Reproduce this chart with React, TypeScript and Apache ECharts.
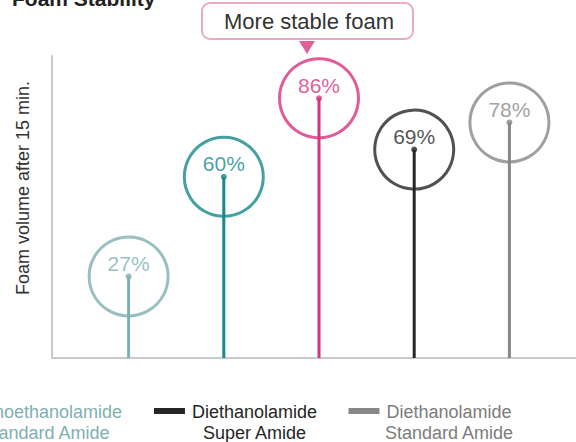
import React, { useEffect, useRef } from "react";
import * as echarts from "echarts";

// ---- data ----
const categories = [
  "Monoethanolamide Standard Amide",
  "Monoethanolamide Super Amide",
  "Super Amide",
  "Diethanolamide Super Amide",
  "Diethanolamide Standard Amide",
];
const values = [27, 60, 86, 69, 78];
const colors = ["#7eb0b3", "#16898a", "#d7327f", "#262626", "#878787"];

const legendNames = [
  "Monoethanolamide\nStandard Amide",
  "Diethanolamide\nSuper Amide",
  "Diethanolamide\nStandard Amide",
];
const legendColors = ["#7eb0b3", "#262626", "#878787"];
const legendTextColors = ["#7eb0b3", "#262626", "#7c7c7c"];

const titleText = "Foam Stability";
const calloutText = "More stable foam";
const yAxisTitle = "Foam volume after 15 min.";

const FONT = "'Liberation Sans', Arial, Helvetica, sans-serif";

export default function App() {
  const ref = useRef<HTMLDivElement>(null);

  useEffect(() => {
    if (!ref.current) return;
    const chart = echarts.init(ref.current, undefined, { renderer: "svg" });

    const legendCenters = [45.5, 254.5, 449];
    const legendGraphics: any[] = [];
    legendNames.forEach((name, i) => {
      const cx = legendCenters[i];
      const firstLine = name.split("\n")[0];
      legendGraphics.push({
        type: "text",
        x: cx,
        y: 401,
        style: {
          text: name,
          font: `18px ${FONT}`,
          fill: legendTextColors[i],
          align: "center",
          verticalAlign: "top",
          lineHeight: 21,
        },
      });
      // icon placed left of the first line
      const w = echarts.format.getTextRect
        ? (echarts as any).format.getTextRect(firstLine, `18px ${FONT}`).width
        : 125;
      legendGraphics.push({
        type: "rect",
        shape: { x: cx - w / 2 - 38, y: 408, width: 31, height: 6 },
        style: { fill: legendColors[i] },
      });
    });

    const option: any = {
      animation: false,
      backgroundColor: "#ffffff",
      textStyle: { fontFamily: FONT },
      grid: [
        { left: 52, right: 0, top: 56, bottom: 84 },
        { left: 81, right: 19, top: 56, bottom: 84 },
      ],
      xAxis: [
        {
          gridIndex: 0,
          type: "category",
          data: categories,
          axisLine: { show: true, lineStyle: { color: "#c9c9c9", width: 2 } },
          axisTick: { show: false },
          axisLabel: { show: false },
        },
        {
          gridIndex: 1,
          type: "category",
          data: categories,
          show: false,
        },
      ],
      yAxis: [
        {
          gridIndex: 0,
          type: "value",
          min: 0,
          max: 100,
          axisLine: { show: true, lineStyle: { color: "#c9c9c9", width: 2 } },
          axisTick: { show: false },
          axisLabel: { show: false },
          splitLine: { show: false },
        },
        {
          gridIndex: 1,
          type: "value",
          min: 0,
          max: 100,
          show: false,
          splitLine: { show: false },
        },
      ],
      series: [
        {
          type: "bar",
          xAxisIndex: 1,
          yAxisIndex: 1,
          barWidth: 3,
          z: 2,
          data: values.map((v, i) => ({ value: v, itemStyle: { color: colors[i] } })),
        },
        {
          type: "scatter",
          xAxisIndex: 1,
          yAxisIndex: 1,
          symbol: "circle",
          symbolSize: 79,
          z: 3,
          data: values.map((v, i) => ({
            value: v,
            itemStyle: { color: "rgba(255,255,255,0)", borderColor: colors[i], borderWidth: 3 },
            label: { color: colors[i] },
          })),
          label: {
            show: true,
            position: "inside",
            offset: [0, -13],
            fontSize: 21,
            fontFamily: FONT,
            formatter: (p: any) => `${p.value}%`,
          },
          emphasis: { disabled: true },
        },
        {
          type: "scatter",
          xAxisIndex: 1,
          yAxisIndex: 1,
          symbol: "circle",
          symbolSize: 6,
          z: 4,
          data: values.map((v, i) => ({ value: v, itemStyle: { color: colors[i] } })),
          emphasis: { disabled: true },
        },
      ],
      graphic: [
        {
          type: "text",
          x: 12,
          y: 9,
          style: {
            text: titleText,
            font: `bold 21px ${FONT}`,
            fill: "#222",
            align: "left",
            verticalAlign: "bottom",
          },
        },
        {
          type: "rect",
          shape: { x: 202, y: 3, width: 211, height: 36, r: 8 },
          style: { fill: "#fff", stroke: "#eba9c5", lineWidth: 2 },
        },
        {
          type: "text",
          x: 309,
          y: 21,
          style: {
            text: calloutText,
            font: `22px ${FONT}`,
            fill: "#333",
            align: "center",
            verticalAlign: "middle",
          },
        },
        {
          type: "polygon",
          shape: { points: [[299, 41], [315, 41], [307, 54]] },
          style: { fill: "#e0609a" },
        },
        {
          type: "text",
          x: 23,
          y: 188,
          rotation: Math.PI / 2,
          style: {
            text: yAxisTitle,
            font: `18px ${FONT}`,
            fill: "#333",
            align: "center",
            verticalAlign: "middle",
          },
        },
        ...legendGraphics,
      ],
    };

    chart.setOption(option);
    return () => chart.dispose();
  }, []);

  return (
    <div
      ref={ref}
      style={{ position: "fixed", left: 0, top: 0, width: 576, height: 442 }}
    />
  );
}
